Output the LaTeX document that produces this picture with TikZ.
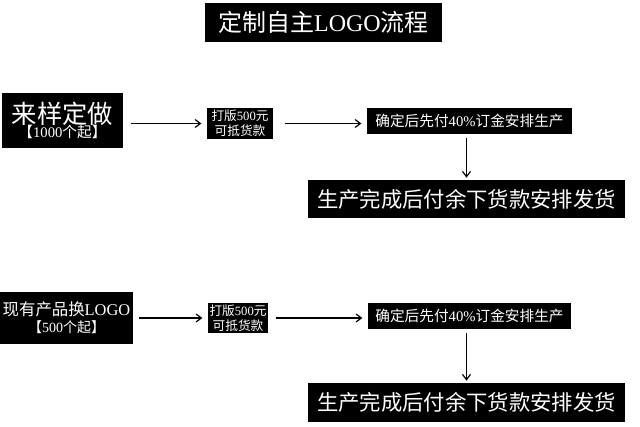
\documentclass[tikz,border=0pt]{standalone}
\usepackage{fontspec}
\setmainfont{Liberation Serif}
\newfontfamily\cjk{Noto Sans CJK SC}
\usetikzlibrary{arrows.meta, positioning}

\begin{document}
\begin{tikzpicture}[
    x=0.75pt, y=-0.75pt,
    box/.style={rectangle, fill=black, text=white, align=center, inner sep=0pt},
    arrow/.style={-{Straight Barb[length=4pt, width=6pt]}, line width=0.9pt, shorten <=6pt, shorten >=4pt},
    down/.style={arrow, shorten <=3pt, shorten >=1.5pt}
]
\useasboundingbox (0,0) rectangle (640,427);

\node[box, minimum width=177.75pt, minimum height=29.25pt, font=\fontsize{18}{20}\selectfont] (title) at (323.5,22.5) {{\cjk 定制自主}LOGO{\cjk 流程}};

\node[box, minimum width=90.75pt, minimum height=41.25pt] (sample) at (62.5,120.5)
  {{\fontsize{19}{21}\selectfont\cjk 来样定做}\\[-1pt]{\fontsize{11}{12}\selectfont{\cjk 【}1000{\cjk 个起】}}};
\node[box, minimum width=49.5pt, minimum height=23.25pt, font=\fontsize{9.5}{11}\selectfont] (proof) at (240,123.5)
  {{\cjk 打版}500{\cjk 元}\\{\cjk 可抵货款}};
\node[box, minimum width=153.75pt, minimum height=19.5pt, font=\fontsize{11}{13}\selectfont] (deposit) at (469.5,121)
  {{\cjk 确定后先付}40\%{\cjk 订金安排生产}};
\node[box, minimum width=237.75pt, minimum height=28.5pt, font=\fontsize{16}{18}\selectfont\cjk] (ship) at (466.5,199)
  {生产完成后付余下货款安排发货};

\node[box, minimum width=99.75pt, minimum height=39pt] (exist) at (66.5,318)
  {{\fontsize{12.3}{14}\selectfont{\cjk 现有产品换}LOGO}\\[1pt]{\fontsize{10.5}{12}\selectfont{\cjk 【}500{\cjk 个起】}}};
\node[box, minimum width=45pt, minimum height=22.5pt, font=\fontsize{9.5}{11}\selectfont] (proofb) at (238,318)
  {{\cjk 打版}500{\cjk 元}\\{\cjk 可抵货款}};
\node[box, minimum width=152.25pt, minimum height=19.5pt, font=\fontsize{11}{13}\selectfont] (depositb) at (469.5,316)
  {{\cjk 确定后先付}40\%{\cjk 订金安排生产}};
\node[box, minimum width=237.75pt, minimum height=29.25pt, font=\fontsize{16}{18}\selectfont\cjk] (shipb) at (466.5,402.5)
  {生产完成后付余下货款安排发货};

\draw[arrow] (sample.east |- proof.west) -- (proof.west);
\draw[arrow, shorten <=9pt] (proof.east) -- (proof.east -| deposit.west);
\draw[down] (deposit.south -| ship.north) -- (ship.north);

\draw[arrow, shorten <=4pt] (exist.east) -- (proofb.west);
\draw[arrow] (proofb.east) -- (proofb.east -| depositb.west);
\draw[down] (depositb.south -| shipb.north) -- (shipb.north);
\end{tikzpicture}
\end{document}
